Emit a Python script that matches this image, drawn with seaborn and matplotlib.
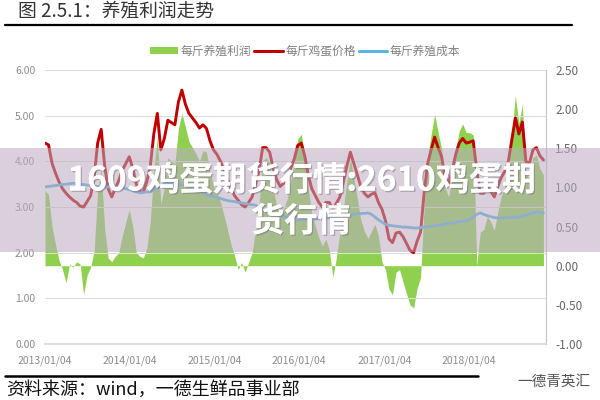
import numpy as np
import pandas as pd
import matplotlib
matplotlib.use("Agg")
import matplotlib.pyplot as plt
import matplotlib.dates as mdates
import matplotlib.patheffects as pe
import seaborn as sns
from matplotlib.patches import Patch, Rectangle
from matplotlib.lines import Line2D

# ---------------- data (semi-monthly readings, 2013/01 - 2018/11) ----------------
egg_price = [4.40, 4.36, 3.96, 3.74, 3.55, 3.40, 3.30, 3.22, 3.15, 3.10,
             3.02, 3.00, 3.12, 3.25, 3.65, 4.40, 4.70, 3.90, 3.40, 3.22,
             3.40, 3.58, 3.80, 3.95, 4.10, 3.85, 3.50, 3.33, 3.33, 3.55,
             3.90, 4.60, 5.05, 4.25, 4.50, 4.90, 4.85, 4.80, 5.30, 5.56,
             5.25, 5.05, 4.95, 4.85, 4.73, 4.80, 4.72, 4.45, 4.25, 4.15,
             4.00, 3.80, 3.60, 3.40, 3.25, 3.15, 3.05, 3.00, 3.10, 3.22,
             3.50, 3.80, 4.30, 4.30, 4.20, 3.85, 3.60, 3.45, 3.52, 3.62,
             3.85, 4.05, 4.35, 4.40, 4.12, 3.70, 3.40, 3.25, 3.10, 3.00,
             3.10, 3.10, 2.95, 3.08, 3.22, 3.55, 3.90, 4.20, 3.95, 3.70,
             3.44, 3.30, 3.22, 3.28, 3.31, 3.10, 2.95, 2.70, 2.30, 2.22,
             2.43, 2.45, 2.35, 2.20, 2.05, 2.00, 2.25, 2.45, 3.30, 3.95,
             4.25, 4.53, 4.30, 4.10, 3.62, 3.52, 3.80, 4.15, 4.40, 4.50,
             4.40, 4.42, 4.45, 3.80, 3.30, 3.30, 3.44, 3.35, 3.22, 3.45,
             3.65, 3.78, 4.00, 4.47, 4.95, 4.60, 4.86, 4.00, 3.95, 4.25,
             4.30, 4.12, 4.03]

feed_cost = [3.44, 3.45, 3.46, 3.47, 3.48, 3.49, 3.50, 3.51, 3.52, 3.51,
             3.50, 3.49, 3.48, 3.47, 3.46, 3.45, 3.45, 3.44, 3.44, 3.43,
             3.43, 3.42, 3.42, 3.40, 3.38, 3.35, 3.33, 3.31, 3.32, 3.33,
             3.33, 3.37, 3.41, 3.46, 3.50, 3.52, 3.51, 3.50, 3.49, 3.48,
             3.48, 3.46, 3.44, 3.42, 3.39, 3.33, 3.27, 3.25, 3.23, 3.21,
             3.19, 3.16, 3.14, 3.13, 3.12, 3.10, 3.09, 3.08, 3.06, 3.05,
             3.04, 3.00, 2.96, 2.92, 2.88, 2.86, 2.84, 2.81, 2.79, 2.77,
             2.75, 2.74, 2.73, 2.72, 2.72, 2.72, 2.73, 2.74, 2.74, 2.75,
             2.76, 2.76, 2.78, 2.79, 2.80, 2.82, 2.82, 2.83, 2.84, 2.85,
             2.86, 2.86, 2.87, 2.84, 2.78, 2.72, 2.67, 2.62, 2.60, 2.59,
             2.58, 2.57, 2.56, 2.56, 2.55, 2.54, 2.54, 2.55, 2.56, 2.57,
             2.58, 2.59, 2.60, 2.61, 2.63, 2.64, 2.65, 2.66, 2.68, 2.69,
             2.70, 2.72, 2.78, 2.84, 2.87, 2.84, 2.81, 2.79, 2.77, 2.76,
             2.76, 2.77, 2.77, 2.77, 2.78, 2.78, 2.80, 2.82, 2.84, 2.87,
             2.89, 2.88, 2.87]

profit = [0.96, 0.91, 0.50, 0.27, 0.07, -0.05, -0.22, 0.02, -0.02, 0.05,
          0.02, -0.37, -0.12, -0.02, 0.19, 0.95, 1.25, 0.46, 0.10, 0.05,
          0.12, 0.16, 0.38, 0.55, 0.72, 0.50, 0.17, 0.12, 0.10, 0.22,
          0.57, 1.23, 1.64, 0.79, 1.00, 1.38, 1.34, 1.30, 1.75, 1.95,
          1.77, 1.59, 1.51, 1.43, 1.34, 1.47, 1.45, 1.20, 1.02, 0.94,
          0.81, 0.64, 0.46, 0.27, 0.13, -0.05, 0.04, -0.08, 0.04, 0.17,
          0.46, 0.80, 1.34, 1.38, 1.32, 0.99, 0.76, 0.64, 0.73, 0.85,
          1.10, 1.31, 1.62, 1.68, 1.40, 0.98, 0.67, 0.51, 0.36, 0.25,
          0.34, 0.20, -0.15, 0.10, 0.42, 0.73, 1.08, 1.37, 1.11, 0.85,
          0.58, 0.44, 0.35, 0.44, 0.53, 0.38, 0.05, -0.05, -0.30, -0.37,
          -0.08, -0.05, -0.21, -0.36, -0.50, -0.54, -0.29, -0.15, 0.74, 1.38,
          1.67, 1.94, 1.70, 1.49, 0.99, 0.88, 1.15, 1.49, 1.72, 1.81,
          1.70, 1.70, 1.67, 0.00, 0.43, 0.46, 0.63, 0.56, 0.45, 0.69,
          0.89, 1.01, 1.23, 1.70, 2.17, 1.82, 2.06, 1.18, 1.11, 1.38,
          1.41, 1.24, 1.16]

dates = pd.date_range("2013-01-04", "2018-11-20", periods=len(egg_price))
tick_dates = ["2013-01-04", "2014-01-04", "2015-01-04",
              "2016-01-04", "2017-01-04", "2018-01-04"]
left_ticks = [0, 1, 2, 3, 4, 5, 6]
right_ticks = [-1.0, -0.5, 0.0, 0.5, 1.0, 1.5, 2.0, 2.5]
legend_labels = ["每斤养殖利润", "每斤鸡蛋价格", "每斤养殖成本"]

df = pd.DataFrame({"date": dates, "price": egg_price,
                   "cost": feed_cost, "profit": profit})

GREEN = "#8fd14f"
RED = "#c00000"
BLUE = "#5bb3e2"
TICK = "#8c8c8c"

sns.set_theme(style="white")
plt.rcParams["font.family"] = ["Noto Sans CJK SC", "DejaVu Sans"]
plt.rcParams["axes.unicode_minus"] = False

fig = plt.figure(figsize=(6, 4), dpi=100)
fig.patch.set_facecolor("white")
ax = fig.add_axes([45 / 600, 1 - 344 / 400, (546 - 45) / 600, (344 - 70) / 400])
ax2 = ax.twinx()

# profit area on right axis
ax2.fill_between(df["date"], df["profit"], 0, color=GREEN, lw=0)
sns.lineplot(data=df, x="date", y="profit", ax=ax2, lw=0, color=GREEN)

# price and cost lines on left axis
sns.lineplot(data=df, x="date", y="price", ax=ax, color=RED, lw=2.1)
sns.lineplot(data=df, x="date", y="cost", ax=ax, color=BLUE, lw=2.0)

ax.set_zorder(ax2.get_zorder() + 1)
ax.patch.set_visible(False)

ax.set_ylim(0, 6)
ax.set_yticks(left_ticks)
ax.yaxis.set_major_formatter(matplotlib.ticker.FormatStrFormatter("%.2f"))
ax2.set_ylim(-1, 2.5)
ax2.set_yticks(right_ticks)
ax2.yaxis.set_major_formatter(matplotlib.ticker.FormatStrFormatter("%.2f"))

ax.set_xlim(pd.Timestamp("2013-01-04"), pd.Timestamp("2018-12-01"))
ax.set_xticks(pd.to_datetime(tick_dates))
ax.xaxis.set_major_formatter(mdates.DateFormatter("%Y/%m/%d"))

ax.grid(axis="y", color="#dcdcdc", lw=0.8)
ax.grid(axis="x", visible=False)
ax2.grid(False)

for s in ["top", "left", "right"]:
    ax.spines[s].set_visible(False)
ax.spines["bottom"].set_color("#d9d9d9")
for s in ["top", "left", "bottom"]:
    ax2.spines[s].set_visible(False)
ax2.spines["right"].set_color("#c8c8c8")
ax2.spines["right"].set_linewidth(0.9)

ax.tick_params(axis="y", length=0, pad=7, labelsize=7.5, labelcolor=TICK)
ax.tick_params(axis="x", length=3, width=0.8, color="#d9d9d9", pad=5,
               labelsize=7.5, labelcolor=TICK, direction="out")
ax2.tick_params(axis="y", length=0, pad=6.5, labelsize=8.5, labelcolor="#666666")
for a in (ax, ax2):
    a.set_xlabel("")
    a.set_ylabel("")

# legend
handles = [Patch(facecolor=GREEN, edgecolor="none"),
           Line2D([], [], color=RED, lw=2.2),
           Line2D([], [], color=BLUE, lw=2.2)]
fig.legend(handles, legend_labels, loc="center", bbox_to_anchor=(305 / 600, 1 - 51 / 400),
           ncol=3, frameon=False, fontsize=8.5, labelcolor="#808080",
           handlelength=2.4, handleheight=0.6, handletextpad=0.2, columnspacing=0.3)

# header
fig.text(18 / 600, 1 - 11 / 400, "图 2.5.1：养殖利润走势", fontsize=13.5,
         color="#333333", va="center", ha="left")
fig.add_artist(Line2D([5 / 600, 572 / 600], [1 - 25 / 400, 1 - 25 / 400],
                      transform=fig.transFigure, color="black", lw=1.6))

# footer
fig.add_artist(Line2D([5 / 600, 478 / 600], [1 - 376 / 400, 1 - 376 / 400],
                      transform=fig.transFigure, color="black", lw=1.8))
fig.text(6 / 600, 1 - 390 / 400, "资料来源：wind，一德生鲜品事业部", fontsize=13,
         color="#111111", va="center", ha="left")
fig.text(590 / 600, 1 - 382 / 400, "一德青英汇", fontsize=10.5,
         color="#555555", va="center", ha="right")

# translucent banner with title overlay
fig.add_artist(Rectangle((0, 1 - 252 / 400), 1, 104 / 400, transform=fig.transFigure,
                         facecolor=(0.73, 0.67, 0.75), edgecolor="none",
                         alpha=0.55, zorder=20))
effects = [pe.withSimplePatchShadow(offset=(1, -1), shadow_rgbFace="#7a6f80", alpha=0.5),
           pe.Normal()]
fig.text(302 / 600, 1 - 181 / 400, "1609鸡蛋期货行情:2610鸡蛋期", fontsize=24,
         fontweight="bold", color="white", ha="center", va="center", zorder=21,
         path_effects=effects)
fig.text(301 / 600, 1 - 222 / 400, "货行情", fontsize=24,
         fontweight="bold", color="white", ha="center", va="center", zorder=21,
         path_effects=effects)

fig.savefig("out.png", dpi=100)
